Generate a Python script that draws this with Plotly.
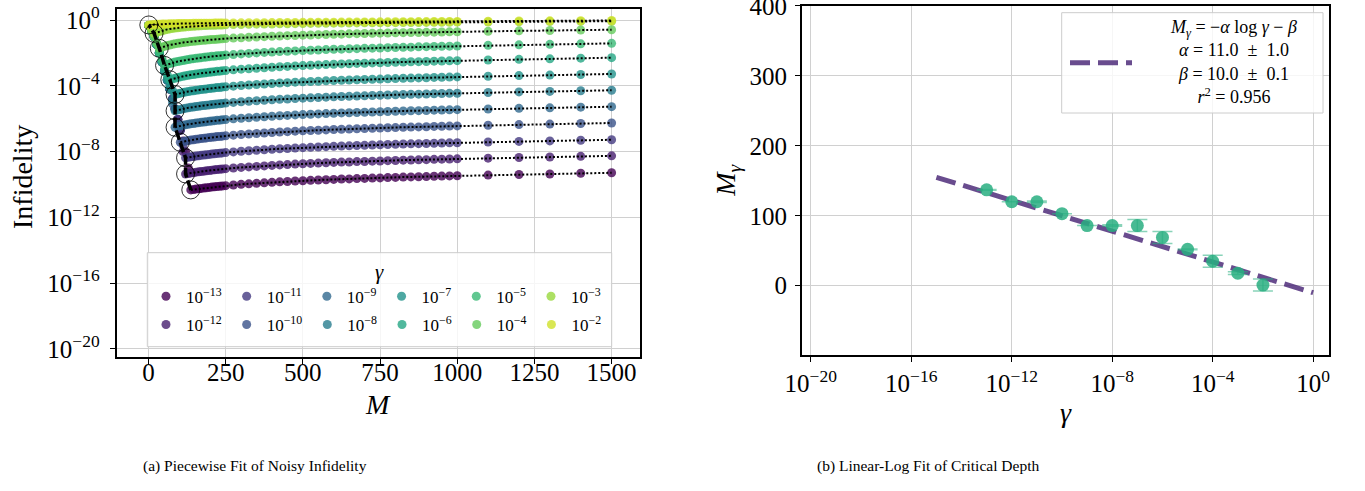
import numpy as np
import plotly.graph_objects as go
from plotly.colors import sample_colorscale

W, H = 1365, 491
FONT = "Liberation Serif"

# ---------------------------------------------------------------- data
GAMMA_EXPONENTS = [-13, -12, -11, -10, -9, -8, -7, -6, -5, -4, -3, -2]

# circuit depths: fine sweep, coarse sweep, long-depth tail
DEPTH_FINE = [1, 10, 18, 27, 35, 44, 52, 61, 69, 78, 86, 95, 103, 112, 120, 129, 137,
              146, 154, 163, 171, 180, 188, 197, 205, 214, 222, 231, 239]
DEPTH_COARSE = [250, 275, 300, 325, 350, 375, 400, 425, 450, 475, 500, 525, 550,
                575, 600, 625, 650, 675, 700, 725, 750, 775, 800, 825, 850, 875,
                900, 925, 950, 975, 1000]
DEPTH_TAIL = [1100, 1200, 1300, 1400, 1500]

# log10 of the noisy infidelity, one list per noise strength gamma
LOG_INF_1E13 = [-0.33, -0.65, -1.00, -1.50, -2.00, -2.55, -3.10, -3.65, -4.20, -4.80, -5.40, -6.05, -6.70, -7.35, -8.00,
                -9.00, -10.33, -10.31, -10.28, -10.26, -10.24, -10.22, -10.20, -10.18, -10.16, -10.14, -10.12, -10.11, -10.09,
                -10.07, -10.03, -9.99, -9.96, -9.93, -9.90, -9.87, -9.84, -9.82, -9.79, -9.77, -9.75, -9.73, -9.71, -9.69, -9.67,
                -9.66, -9.64, -9.63, -9.61, -9.60, -9.58, -9.57, -9.55, -9.54, -9.53, -9.52, -9.50, -9.49, -9.48, -9.47,
                -9.43, -9.39, -9.36, -9.32, -9.29]
LOG_INF_1E12 = [-0.33, -0.65, -1.00, -1.50, -2.00, -2.55, -3.10, -3.65, -4.20, -4.80, -5.40, -6.05, -6.70, -8.00, -9.36,
                -9.33, -9.30, -9.28, -9.25, -9.23, -9.21, -9.19, -9.17, -9.15, -9.13, -9.11, -9.09, -9.08, -9.06,
                -9.04, -9.00, -8.96, -8.93, -8.90, -8.87, -8.84, -8.81, -8.79, -8.76, -8.74, -8.72, -8.70, -8.68, -8.66, -8.64,
                -8.63, -8.61, -8.60, -8.58, -8.57, -8.55, -8.54, -8.52, -8.51, -8.50, -8.49, -8.47, -8.46, -8.45, -8.44,
                -8.40, -8.36, -8.33, -8.29, -8.26]
LOG_INF_1E11 = [-0.33, -0.65, -1.00, -1.50, -2.00, -2.55, -3.10, -3.65, -4.20, -4.80, -5.40, -6.05, -6.70, -7.60, -8.38,
                -8.35, -8.32, -8.30, -8.27, -8.25, -8.23, -8.21, -8.19, -8.17, -8.15, -8.13, -8.11, -8.10, -8.08,
                -8.06, -8.02, -7.98, -7.95, -7.92, -7.89, -7.86, -7.83, -7.81, -7.78, -7.76, -7.74, -7.72, -7.70, -7.68, -7.66,
                -7.65, -7.63, -7.62, -7.60, -7.59, -7.57, -7.56, -7.54, -7.53, -7.52, -7.51, -7.49, -7.48, -7.47, -7.46,
                -7.42, -7.38, -7.35, -7.31, -7.28]
LOG_INF_1E10 = [-0.33, -0.65, -1.00, -1.50, -2.00, -2.55, -3.10, -3.65, -4.20, -4.80, -5.40, -6.30, -7.43, -7.39, -7.36,
                -7.33, -7.30, -7.28, -7.25, -7.23, -7.21, -7.19, -7.17, -7.15, -7.13, -7.11, -7.09, -7.08, -7.06,
                -7.04, -7.00, -6.96, -6.93, -6.90, -6.87, -6.84, -6.81, -6.79, -6.76, -6.74, -6.72, -6.70, -6.68, -6.66, -6.64,
                -6.63, -6.61, -6.60, -6.58, -6.57, -6.55, -6.54, -6.52, -6.51, -6.50, -6.49, -6.47, -6.46, -6.45, -6.44,
                -6.40, -6.36, -6.33, -6.29, -6.26]
LOG_INF_1E9 = [-0.33, -0.65, -1.00, -1.50, -2.00, -2.55, -3.10, -3.65, -4.20, -5.10, -6.52, -6.47, -6.44, -6.40, -6.37,
               -6.34, -6.31, -6.29, -6.26, -6.24, -6.22, -6.20, -6.18, -6.16, -6.14, -6.12, -6.10, -6.09, -6.07,
               -6.05, -6.01, -5.97, -5.94, -5.91, -5.88, -5.85, -5.82, -5.80, -5.77, -5.75, -5.73, -5.71, -5.69, -5.67, -5.65,
               -5.64, -5.62, -5.61, -5.59, -5.58, -5.56, -5.55, -5.53, -5.52, -5.51, -5.50, -5.48, -5.47, -5.46, -5.45,
               -5.41, -5.37, -5.34, -5.30, -5.27]
LOG_INF_1E8 = [-0.33, -0.65, -1.00, -1.50, -2.00, -2.55, -3.10, -3.65, -4.18, -4.90, -5.52, -5.47, -5.44, -5.40, -5.37,
               -5.34, -5.31, -5.29, -5.26, -5.24, -5.22, -5.20, -5.18, -5.16, -5.14, -5.12, -5.10, -5.09, -5.07,
               -5.05, -5.01, -4.97, -4.94, -4.91, -4.88, -4.85, -4.82, -4.80, -4.77, -4.75, -4.73, -4.71, -4.69, -4.67, -4.65,
               -4.64, -4.62, -4.61, -4.59, -4.58, -4.56, -4.55, -4.53, -4.52, -4.51, -4.50, -4.48, -4.47, -4.46, -4.45,
               -4.41, -4.37, -4.34, -4.30, -4.27]
LOG_INF_1E7 = [-0.33, -0.65, -1.00, -1.50, -2.00, -2.55, -3.10, -3.60, -4.05, -4.30, -4.53, -4.48, -4.45, -4.41, -4.38,
               -4.35, -4.32, -4.30, -4.27, -4.25, -4.23, -4.21, -4.19, -4.17, -4.15, -4.13, -4.11, -4.10, -4.08,
               -4.06, -4.02, -3.98, -3.95, -3.92, -3.89, -3.86, -3.83, -3.81, -3.78, -3.76, -3.74, -3.72, -3.70, -3.68, -3.66,
               -3.65, -3.63, -3.62, -3.60, -3.59, -3.57, -3.56, -3.54, -3.53, -3.52, -3.51, -3.49, -3.48, -3.47, -3.46,
               -3.42, -3.38, -3.35, -3.31, -3.28]
LOG_INF_1E6 = [-0.33, -0.65, -1.00, -1.50, -2.00, -2.50, -3.00, -3.35, -3.63, -3.58, -3.54, -3.49, -3.46, -3.42, -3.39,
               -3.36, -3.33, -3.31, -3.28, -3.26, -3.24, -3.22, -3.20, -3.18, -3.16, -3.14, -3.12, -3.11, -3.09,
               -3.07, -3.03, -2.99, -2.96, -2.93, -2.90, -2.87, -2.84, -2.82, -2.79, -2.77, -2.75, -2.73, -2.71, -2.69, -2.67,
               -2.66, -2.64, -2.63, -2.61, -2.60, -2.58, -2.57, -2.55, -2.54, -2.53, -2.52, -2.50, -2.49, -2.48, -2.47,
               -2.43, -2.39, -2.36, -2.32, -2.29]
LOG_INF_1E5 = [-0.33, -0.65, -1.00, -1.45, -1.95, -2.40, -2.76, -2.70, -2.65, -2.60, -2.56, -2.52, -2.49, -2.46, -2.43,
               -2.40, -2.37, -2.35, -2.33, -2.31, -2.29, -2.27, -2.25, -2.23, -2.21, -2.20, -2.18, -2.17, -2.15,
               -2.13, -2.10, -2.06, -2.03, -2.00, -1.97, -1.95, -1.92, -1.90, -1.88, -1.86, -1.84, -1.82, -1.80, -1.78, -1.77,
               -1.75, -1.74, -1.72, -1.71, -1.70, -1.68, -1.67, -1.66, -1.65, -1.63, -1.62, -1.61, -1.60, -1.59, -1.58,
               -1.54, -1.51, -1.48, -1.45, -1.42]
LOG_INF_1E4 = [-0.33, -0.65, -1.00, -1.40, -1.72, -1.65, -1.60, -1.55, -1.52, -1.48, -1.45, -1.42, -1.40, -1.37, -1.35,
               -1.33, -1.31, -1.29, -1.28, -1.26, -1.24, -1.23, -1.22, -1.20, -1.19, -1.18, -1.17, -1.15, -1.14,
               -1.13, -1.10, -1.08, -1.05, -1.03, -1.01, -0.99, -0.97, -0.95, -0.94, -0.92, -0.91, -0.89, -0.88, -0.87, -0.86,
               -0.84, -0.83, -0.82, -0.81, -0.80, -0.79, -0.78, -0.77, -0.76, -0.76, -0.75, -0.74, -0.73, -0.72, -0.71,
               -0.69, -0.66, -0.64, -0.61, -0.59]
LOG_INF_1E3 = [-0.33, -0.55, -0.81, -0.75, -0.70, -0.65, -0.61, -0.57, -0.54, -0.51, -0.49, -0.47, -0.45, -0.435, -0.42,
               -0.405, -0.39, -0.38, -0.37, -0.36, -0.35, -0.34, -0.33, -0.325, -0.32, -0.315, -0.31, -0.305, -0.30,
               -0.29, -0.28, -0.27, -0.26, -0.25, -0.245, -0.24, -0.23, -0.225, -0.22, -0.21, -0.205, -0.20, -0.195, -0.19, -0.185,
               -0.18, -0.175, -0.17, -0.17, -0.165, -0.16, -0.16, -0.155, -0.15, -0.15, -0.145, -0.14, -0.14, -0.135, -0.13,
               -0.12, -0.105, -0.095, -0.085, -0.075]
LOG_INF_1E2 = [-0.30, -0.285, -0.27, -0.26, -0.25, -0.245, -0.24, -0.235, -0.23, -0.225, -0.22, -0.218, -0.215, -0.212, -0.21,
               -0.207, -0.205, -0.202, -0.20, -0.197, -0.195, -0.192, -0.19, -0.19, -0.19, -0.187, -0.185, -0.182, -0.18,
               -0.18, -0.175, -0.17, -0.165, -0.16, -0.16, -0.155, -0.15, -0.15, -0.145, -0.14, -0.14, -0.135, -0.13, -0.13, -0.125,
               -0.12, -0.12, -0.115, -0.115, -0.11, -0.11, -0.105, -0.10, -0.10, -0.095, -0.095, -0.09, -0.09, -0.085, -0.085,
               -0.07, -0.06, -0.05, -0.04, -0.03]

# critical depth vs gamma (panel b), with fit uncertainty
CRITICAL_DEPTH = [137, 120, 120, 103, 86, 86, 86, 69, 52, 35, 18, 1]
CRITICAL_DEPTH_ERR = [0.5, 0, 1, 0, 0, 1, 8.5, 8.5, 0.5, 8.5, 2, 8.5]

# linear-log fit  M_gamma = -alpha * log(gamma) - beta
FIT_ALPHA, FIT_ALPHA_ERR = 11.0, 1.0
FIT_BETA, FIT_BETA_ERR = 10.0, 0.1
FIT_R2 = 0.956
FIT_GAMMA_SPAN = [1e-15, 1e0]

# ---------------------------------------------------------------- helpers
def fx(x):
    return x / W


def fy(y):
    return 1 - y / H


def rgba(rgb, a):
    r, g, b = [float(v) for v in rgb[rgb.index("(") + 1:-1].split(",")]
    return f"rgba({r:.0f},{g:.0f},{b:.0f},{a})"


def pow10(e):
    return f"10<sup>{str(e).replace('-', '−')}</sup>"


depth = np.array(DEPTH_FINE + DEPTH_COARSE + DEPTH_TAIL, dtype=float)
series = [LOG_INF_1E13, LOG_INF_1E12, LOG_INF_1E11, LOG_INF_1E10, LOG_INF_1E9, LOG_INF_1E8,
          LOG_INF_1E7, LOG_INF_1E6, LOG_INF_1E5, LOG_INF_1E4, LOG_INF_1E3, LOG_INF_1E2]
for s in series:
    assert len(s) == len(depth)

colors = sample_colorscale("Viridis", list(np.linspace(0.0, 0.93, len(GAMMA_EXPONENTS))))

fig = go.Figure()

# ---------------------------------------------------------------- panel (a)
infid = [10.0 ** np.array(s) for s in series]
for y, c in zip(infid, colors):
    fig.add_trace(go.Scatter(x=depth, y=y, mode="markers", xaxis="x", yaxis="y",
                             marker=dict(size=9, color=rgba(c, 0.8), line=dict(width=0)),
                             showlegend=False, hoverinfo="skip"))

# piecewise-fit breakpoints: infidelity at the critical depth of each curve
crit_x, crit_y = [], []
for y, m in zip(infid, CRITICAL_DEPTH):
    k = int(np.where(depth == m)[0][0])
    crit_x.append(depth[k])
    crit_y.append(y[k])
    fig.add_trace(go.Scatter(x=depth[k:], y=y[k:], mode="lines", xaxis="x", yaxis="y",
                             line=dict(color="black", width=2, dash="2px,2px"),
                             showlegend=False, hoverinfo="skip"))

fig.add_trace(go.Scatter(x=crit_x, y=crit_y, mode="lines", xaxis="x", yaxis="y",
                         line=dict(color="black", width=3.5, dash="10px,3px"),
                         showlegend=False, hoverinfo="skip"))
fig.add_trace(go.Scatter(x=crit_x, y=crit_y, mode="markers", xaxis="x", yaxis="y",
                         marker=dict(symbol="circle-open", size=18,
                                     line=dict(color="rgba(0,0,0,0.8)", width=1),
                                     color="rgba(0,0,0,0.8)"),
                         showlegend=False, hoverinfo="skip"))

# legend entries, laid out in two rows (odd exponents on top)
for e, c in zip(GAMMA_EXPONENTS, colors):
    fig.add_trace(go.Scatter(x=[None], y=[None], mode="markers", xaxis="x", yaxis="y",
                             marker=dict(size=9, color=rgba(c, 0.8)),
                             name=pow10(e), legend="legend" if e % 2 else "legend2"))

# ---------------------------------------------------------------- panel (b)
fit_x = np.array(FIT_GAMMA_SPAN)
fit_y = -FIT_ALPHA * np.log10(fit_x) - FIT_BETA
fit_color = "rgba(72,36,117,0.82)"
fig.add_trace(go.Scatter(x=fit_x, y=fit_y, mode="lines", xaxis="x2", yaxis="y2",
                         line=dict(color=fit_color, width=5, dash="20px,8px"),
                         showlegend=False, hoverinfo="skip"))

gam = 10.0 ** np.array(GAMMA_EXPONENTS, dtype=float)
fig.add_trace(go.Scatter(x=gam, y=CRITICAL_DEPTH, mode="markers", xaxis="x2", yaxis="y2",
                         marker=dict(size=13, color="rgba(40,174,128,0.85)", line=dict(width=0)),
                         error_y=dict(type="data", array=CRITICAL_DEPTH_ERR, visible=True,
                                      color="rgba(40,174,128,0.55)", thickness=1.5, width=10),
                         showlegend=False, hoverinfo="skip"))

# ---------------------------------------------------------------- axes
tick_font = dict(family=FONT, size=25, color="black")
common = dict(showline=True, linecolor="black", linewidth=2, mirror=True,
              ticks="outside", ticklen=5, tickwidth=1, tickcolor="black",
              showgrid=True, gridcolor="#d0d0d0", gridwidth=1, zeroline=False,
              tickfont=tick_font, automargin=False, ticklabeloverflow="allow")

left_exp = [0, -4, -8, -12, -16, -20]
right_exp = [-20, -16, -12, -8, -4, 0]

fig.update_layout(
    width=W, height=H, margin=dict(l=0, r=0, t=0, b=0, autoexpand=False),
    paper_bgcolor="white", plot_bgcolor="white",
    font=dict(family=FONT, color="black"),
    xaxis=dict(domain=[fx(116.7), fx(640)], anchor="y", range=[-103, 1592],
               tickvals=[0, 250, 500, 750, 1000, 1250, 1500], ticklabelstandoff=-13,
               **common),
    yaxis=dict(domain=[fy(357), fy(9)], anchor="x", type="log", range=[-20.49, 0.67],
               tickvals=[10.0 ** e for e in left_exp], ticktext=[pow10(e) for e in left_exp],
               ticklabelstandoff=5, **common),
    xaxis2=dict(domain=[fx(802), fx(1329)], anchor="y2", type="log", range=[-20.35, 0.63],
                tickvals=[10.0 ** e for e in right_exp], ticktext=[pow10(e) for e in right_exp],
                title=dict(text="<i>γ</i>", font=dict(family=FONT, size=28), standoff=6),
                **common),
    yaxis2=dict(domain=[fy(355), fy(5.5)], anchor="x2", range=[-99, 400.5],
                tickvals=[0, 100, 200, 300, 400], ticklabelstandoff=3,
                title=dict(text="<i>M</i><sub><i>γ</i></sub>", font=dict(family=FONT, size=28), standoff=6),
                **common),
    legend=dict(orientation="h", x=fx(146), xanchor="left", y=fy(296.7), yanchor="middle",
                bgcolor="rgba(0,0,0,0)", borderwidth=0, traceorder="normal",
                font=dict(family=FONT, size=17)),
    legend2=dict(orientation="h", x=fx(146), xanchor="left", y=fy(325), yanchor="middle",
                 bgcolor="rgba(0,0,0,0)", borderwidth=0, traceorder="normal",
                 font=dict(family=FONT, size=17)),
)

# legend frames
fig.add_shape(type="rect", xref="paper", yref="paper", layer="above",
              x0=fx(147.3), x1=fx(611.7), y0=fy(346.7), y1=fy(252.7),
              fillcolor="rgba(255,255,255,0.8)", line=dict(color="#cccccc", width=1))
fig.add_shape(type="rect", xref="paper", yref="paper", layer="above",
              x0=fx(1061.7), x1=fx(1323), y0=fy(113), y1=fy(12.7),
              fillcolor="rgba(255,255,255,0.8)", line=dict(color="#cccccc", width=1))
fig.add_shape(type="line", xref="paper", yref="paper", layer="above",
              x0=fx(1070), x1=fx(1132), y0=fy(62.7), y1=fy(62.7),
              line=dict(color=fit_color, width=5, dash="20px,8px"))

fit_text = ("<i>M</i><sub><i>γ</i></sub> = −<i>α</i> log <i>γ</i> − <i>β</i><br>"
            f"<i>α</i> = {FIT_ALPHA:.1f}  ±  {FIT_ALPHA_ERR:.1f}<br>"
            f"<i>β</i> = {FIT_BETA:.1f}  ±  {FIT_BETA_ERR:.1f}<br>"
            f"<i>r</i><sup>2</sup> = {FIT_R2:.3f}")

annotations = [
    # axis titles of panel (a)
    dict(text="<i>M</i>", x=fx(378), y=fy(404), xref="paper", yref="paper",
         showarrow=False, xanchor="center", yanchor="middle", font=dict(family=FONT, size=28)),
    dict(text="Infidelity", x=fx(22), y=fy(177), xref="paper", yref="paper", textangle=-90,
         showarrow=False, xanchor="center", yanchor="middle", font=dict(family=FONT, size=28)),
    # legend title of panel (a)
    dict(text="<i>γ</i>", x=fx(379.5), y=fy(271.7), xref="paper", yref="paper",
         showarrow=False, xanchor="center", yanchor="middle", font=dict(family=FONT, size=21)),
    # fit legend of panel (b)
    dict(text=fit_text, x=fx(1233), y=fy(61.5), xref="paper", yref="paper", align="center",
         showarrow=False, xanchor="center", yanchor="middle", font=dict(family=FONT, size=18)),
    # sub-captions
    dict(text="(a) Piecewise Fit of Noisy Infidelity", x=fx(255), y=fy(466), xref="paper", yref="paper",
         showarrow=False, xanchor="center", yanchor="middle", font=dict(family=FONT, size=15.5)),
    dict(text="(b) Linear-Log Fit of Critical Depth", x=fx(928), y=fy(466), xref="paper", yref="paper",
         showarrow=False, xanchor="center", yanchor="middle", font=dict(family=FONT, size=15.5)),
]
fig.update_layout(annotations=annotations)

fig.write_html("out.html")
